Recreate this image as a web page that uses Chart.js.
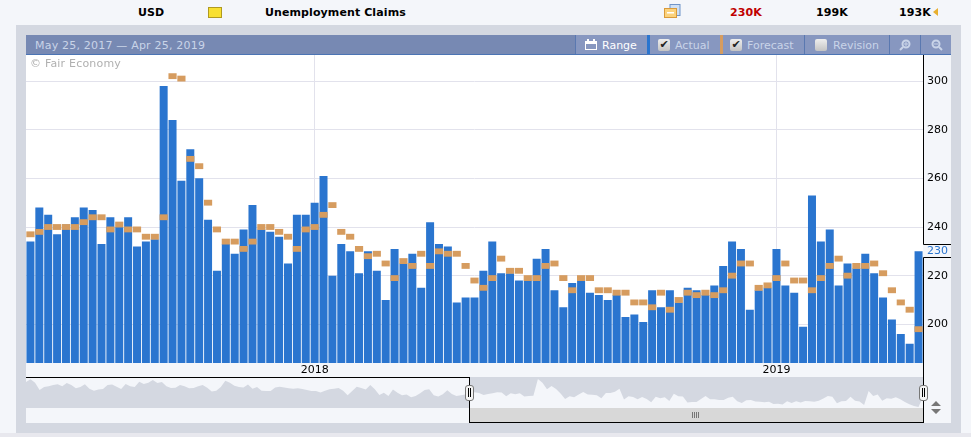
<!DOCTYPE html>
<html>
<head>
<meta charset="utf-8">
<title>Unemployment Claims</title>
<script src="https://cdn.jsdelivr.net/npm/chart.js@4"></script>
<style>
  html, body { margin: 0; padding: 0; }
  body { width: 971px; height: 437px; position: relative; overflow: hidden; background: #f4f6fa; font: 11px "DejaVu Sans", sans-serif; }
  .abs, .t, canvas { position: absolute; }
  .t { white-space: nowrap; line-height: 14px; }
  .b { font-weight: bold; color: #000; top: 6px; letter-spacing: 0.1px; }
  .btn { position: absolute; top: 35px; height: 19px; background: #8797c0; border-left: 1px solid #5a78b0; box-sizing: border-box; }
  .lbl { top: 39px; color: #c9d4e8; }
  .chk { position: absolute; top: 39px; width: 12px; height: 12px; background: linear-gradient(#eee, #c4c4c4); border-radius: 2px; color: #222; font-size: 11px; line-height: 12px; text-align: center; }
</style>
</head>
<body>
<div class="abs" style="left:0;top:433px;width:971px;height:4px;background:#e8e8ee"></div>
<div class="abs" style="left:16px;top:25px;width:945px;height:408px;background:#d4d8e1"></div>
<div class="abs" style="left:26px;top:35px;width:925px;height:388px;background:#f4f6fa"></div>
<div class="abs" style="left:26px;top:35px;width:925px;height:19px;background:#7789b3"></div>
<div class="abs" style="left:26px;top:54px;width:925px;height:1px;background:#4b74b4"></div>
<div class="abs" style="left:26px;top:55px;width:897px;height:308px;background:#fff"></div>

<div class="t b" style="left:138px">USD</div>
<div class="abs" style="left:208px;top:6px;width:14px;height:11px;margin-top:1px;background:#f8e030;border:1px solid #b09a20;box-sizing:border-box"></div>
<div class="t b" style="left:265px">Unemployment Claims</div>
<svg class="abs" style="left:664px;top:4px" width="17" height="15"><rect x="6" y="0.5" width="10" height="11" fill="#cfe0f4" stroke="#6f94c8"/><rect x="0.5" y="4.5" width="12" height="9" fill="#fbd27c" stroke="#d99a3a"/><rect x="3" y="8" width="7" height="1.5" fill="#fff"/></svg>
<div class="t b" style="left:730px;color:#c00000">230K</div>
<div class="t b" style="left:816px">199K</div>
<div class="t b" style="left:899px">193K</div>
<svg class="abs" style="left:933px;top:8px" width="5" height="8"><path d="M5 0V8L0 4Z" fill="#e8b030"/></svg>

<div class="t lbl" style="left:35px;letter-spacing:0.2px">May 25, 2017 — Apr 25, 2019</div>
<div class="btn" style="left:575px;width:72px"></div>
<div class="abs" style="left:647px;top:35px;width:3px;height:19px;background:#2a75cf"></div>
<div class="btn" style="left:650px;width:70px;border-left:0"></div>
<div class="abs" style="left:720px;top:35px;width:3px;height:19px;background:#d69c5f"></div>
<div class="btn" style="left:723px;width:81px;border-left:0"></div>
<div class="btn" style="left:804px;width:85px"></div>
<div class="btn" style="left:889px;width:31px"></div>
<div class="btn" style="left:920px;width:31px"></div>
<svg class="abs" style="left:585px;top:39px" width="12" height="11"><rect x="0.5" y="2.5" width="11" height="8" fill="none" stroke="#fff"/><rect x="0" y="3" width="12" height="2" fill="#fff"/><rect x="2" y="0" width="2" height="3" fill="#fff"/><rect x="8" y="0" width="2" height="3" fill="#fff"/></svg>
<div class="t lbl" style="left:602px;color:#fff">Range</div>
<div class="chk" style="left:658px">✔</div>
<div class="t lbl" style="left:675px">Actual</div>
<div class="chk" style="left:730px">✔</div>
<div class="t lbl" style="left:747px">Forecast</div>
<div class="chk" style="left:815px"></div>
<div class="t lbl" style="left:833px">Revision</div>
<svg class="abs" style="left:899px;top:39px" width="12" height="12"><circle cx="7" cy="5" r="3.5" fill="none" stroke="#c9d4e8" stroke-width="2"/><path d="M4 8L1 11" stroke="#c9d4e8" stroke-width="2"/><path d="M5 5H9M7 3V7" stroke="#c9d4e8"/></svg>
<svg class="abs" style="left:931px;top:39px" width="12" height="12"><circle cx="5" cy="5" r="3.5" fill="none" stroke="#c9d4e8" stroke-width="2"/><path d="M8 8L11 11" stroke="#c9d4e8" stroke-width="2"/><path d="M3 5H7" stroke="#c9d4e8"/></svg>

<!-- overview backdrop and scrollbar, the right part is the selected range -->
<div class="abs" style="left:469px;top:377px;width:454px;height:31px;background:#d4d8e1"></div>
<div class="abs" style="left:469px;top:408px;width:454px;height:14px;background:#d8d8d8"></div>

<canvas id="chart-claims" width="925" height="323" style="left:26px;top:55px"></canvas>
<canvas id="chart-overview" width="897" height="30" style="left:26px;top:378px"></canvas>

<div class="t" style="left:30px;top:57px;color:#b0b0b0;letter-spacing:0.2px">© Fair Economy</div>

<!-- overview frame -->
<div class="abs" style="left:26px;top:377px;width:443px;height:1px;background:#000"></div>
<div class="abs" style="left:469px;top:377px;width:1px;height:46px;background:#000"></div>
<div class="abs" style="left:469px;top:422px;width:455px;height:1px;background:#000"></div>
<div class="abs" style="left:923px;top:377px;width:1px;height:46px;background:#000"></div>
<div class="abs" style="left:465px;top:385px;width:7px;height:14px;background:#f4f4f4;border:1px solid #777;border-radius:3px"></div>
<div class="abs" style="left:468px;top:388px;width:1px;height:9px;background:#000;box-shadow:2px 0 #000"></div>
<div class="abs" style="left:919px;top:385px;width:7px;height:14px;background:#f4f4f4;border:1px solid #777;border-radius:3px"></div>
<div class="abs" style="left:922px;top:388px;width:1px;height:9px;background:#000;box-shadow:2px 0 #000"></div>
<div class="abs" style="left:692px;top:412px;width:1px;height:6px;background:#777;box-shadow:2px 0 #777,4px 0 #777,6px 0 #777"></div>
<svg class="abs" style="left:931px;top:401px" width="11" height="14"><path d="M5 0L10 5H0Z M0 8H10L5 13Z" fill="#777"/></svg>

<script>
// weekly readings in thousands
const firstWeek = "2017-05-25";
const yearLabels = { "2018-01-04": "2018", "2019-01-03": "2019" };
const yTicks = [200, 220, 230, 240, 260, 280, 300];
const latestActual = 230;

const actual = [
  234, 248, 245, 237, 241, 244, 248, 247, 233, 244, 240, 244, 232, 234, 235, 298, 284, 259, 272, 260,
  243, 222, 233, 229, 239, 249, 239, 238, 236, 225, 245, 245, 250, 261, 220, 233, 230, 221, 230, 222,
  210, 231, 225, 229, 215, 242, 233, 232, 209, 211, 211, 222, 234, 221, 221, 218, 218, 227, 231, 214,
  207, 217, 218, 213, 212, 210, 212, 203, 204, 201, 214, 207, 214, 209, 215, 214, 212, 216, 224, 234,
  231, 206, 214, 215, 231, 216, 213, 199, 253, 234, 239, 216, 225, 223, 229, 221, 211, 202, 196, 192,
  230
];
const forecast = [
  237, 238, 240, 240, 240, 240, 242, 244, 244, 239, 241, 239, 239, 236, 236, 244, 302, 301, 268, 265,
  250, 239, 234, 234, 231, 234, 240, 240, 238, 236, 231, 239, 240, 245, 249, 238, 236, 231, 228, 229,
  225, 219, 226, 224, 229, 224, 230, 229, 229, 224, 218, 215, 219, 227, 222, 222, 219, 219, 224, 225,
  219, 214, 219, 219, 214, 214, 213, 213, 209, 209, 207, 213, 206, 210, 213, 212, 213, 212, 214, 220,
  225, 225, 215, 216, 219, 225, 218, 218, 214, 219, 224, 227, 220, 224, 224, 225, 221, 214, 209, 206,
  198
];
// earlier weeks, only visible in the overview strip
const olderActual = [
  287, 297, 284, 256, 268, 271, 275, 278, 271, 283, 275, 263, 268, 278, 261, 254, 258, 260, 275, 277,
  269, 260, 279, 271, 268, 288, 279, 284, 294, 283, 287, 271, 264, 265, 275, 271, 263, 264, 271, 275,
  265, 251, 254, 268, 292, 284, 273, 268, 266, 277, 261, 268, 254, 253, 253, 266, 269, 266, 263, 261,
  263, 260, 256, 253, 253, 247, 254, 259, 261, 264, 254, 236, 253, 269, 264, 258, 275, 259, 237, 246,
  234, 258, 246, 236, 239, 229, 234, 244, 256, 259, 236, 232, 240, 255, 241, 234, 236, 239
];

const weeks = actual.map((_, i) => {
  const d = new Date(firstWeek + "T00:00:00Z");
  d.setUTCDate(d.getUTCDate() + i * 7);
  return d.toISOString().slice(0, 10);
});
const isYearWeek = i => yearLabels[weeks[i]] !== undefined;

// y axis line with the box around the latest value label
const axisLine = {
  id: "axisLine",
  afterDraw(chart) {
    const { ctx, chartArea, scales } = chart;
    const x = Math.round(chartArea.right) + 0.5;
    const y = Math.round(scales.y.getPixelForValue(latestActual));
    ctx.save();
    ctx.strokeStyle = "#000";
    ctx.lineWidth = 1;
    ctx.beginPath();
    ctx.moveTo(x, 0);
    ctx.lineTo(x, y - 6.5);
    ctx.lineTo(chart.width, y - 6.5);
    ctx.moveTo(chart.width, y + 6.5);
    ctx.lineTo(x, y + 6.5);
    ctx.lineTo(x, chart.height);
    ctx.stroke();
    ctx.restore();
  }
};

new Chart(document.getElementById("chart-claims").getContext("2d"), {
  type: "bar",
  data: {
    labels: weeks,
    datasets: [
      { label: "Forecast", data: forecast.map(v => [v - 1.2, v + 1.2]), backgroundColor: "#d69c5f", grouped: false, order: 1, barPercentage: 0.92, categoryPercentage: 1 },
      { label: "Actual", data: actual, backgroundColor: "#2a75cf", grouped: false, order: 2, barPercentage: 0.9, categoryPercentage: 1 }
    ]
  },
  options: {
    responsive: false,
    animation: false,
    devicePixelRatio: 1,
    layout: { padding: 0 },
    plugins: { legend: { display: false }, tooltip: { enabled: false } },
    scales: {
      x: {
        afterFit(s) { s.height = 15; s.paddingLeft = 0; s.paddingRight = 0; },
        border: { display: false },
        grid: {
          offset: false,
          drawTicks: false,
          color: c => (c.index !== undefined && isYearWeek(c.index) ? "#e2e2ec" : "transparent")
        },
        ticks: {
          autoSkip: false,
          maxRotation: 0,
          minRotation: 0,
          padding: 1,
          color: "#000",
          font: { family: "DejaVu Sans", size: 11 },
          callback(v, i) { return yearLabels[weeks[i]] || ""; }
        }
      },
      y: {
        position: "right",
        min: 184.1,
        max: 310.7,
        // labels sit well inside the plot, no margin needed above or below
        afterFit(s) { s.width = 28; s.paddingTop = 0; s.paddingBottom = 0; },
        afterBuildTicks(s) { s.ticks = yTicks.map(value => ({ value })); },
        border: { display: false },
        grid: {
          drawTicks: false,
          lineWidth: 1,
          color: c => (c.tick && c.tick.value === latestActual ? "transparent" : "#e2e2ec")
        },
        ticks: {
          padding: 4,
          color: c => (c.tick.value === latestActual ? "#2a75cf" : "#000"),
          font: { family: "DejaVu Sans", size: 11 },
          callback: v => String(v)
        }
      }
    }
  },
  plugins: [axisLine]
});

const gapOlder = olderActual.map(() => null);
const gapActual = actual.slice(1).map(() => null);

new Chart(document.getElementById("chart-overview").getContext("2d"), {
  type: "line",
  data: {
    labels: olderActual.map(() => "").concat(weeks),
    datasets: [
      { data: olderActual.concat(actual[0], gapActual), fill: "origin", backgroundColor: "#d4d8e1", borderWidth: 0, pointRadius: 0, tension: 0 },
      { data: gapOlder.concat(actual), fill: "origin", backgroundColor: "#f4f6fa", borderWidth: 0, pointRadius: 0, tension: 0 }
    ]
  },
  options: {
    responsive: false,
    animation: false,
    devicePixelRatio: 1,
    layout: { padding: 0 },
    plugins: { legend: { display: false }, tooltip: { enabled: false } },
    scales: {
      x: { display: false },
      y: { display: false, min: 188, max: 302 }
    }
  }
});
</script>
</body>
</html>
